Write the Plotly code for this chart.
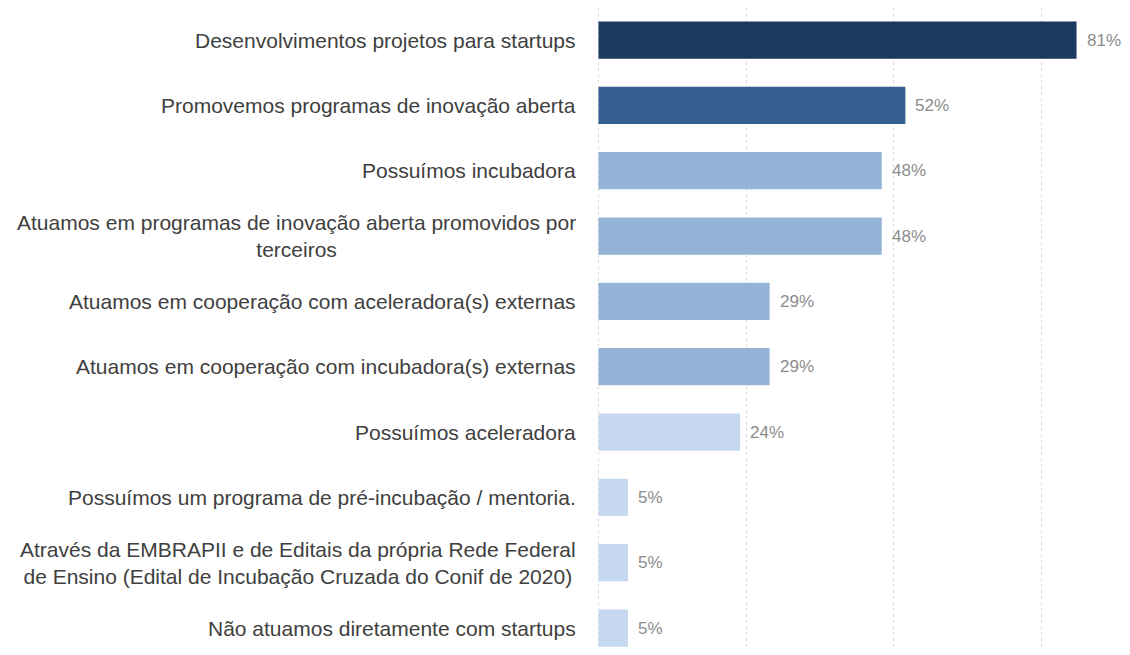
import plotly.graph_objects as go

labels = [
    "Desenvolvimentos projetos para startups",
    "Promovemos programas de inovação aberta",
    "Possuímos incubadora",
    "Atuamos em programas de inovação aberta promovidos por<br>terceiros",
    "Atuamos em cooperação com aceleradora(s) externas",
    "Atuamos em cooperação com incubadora(s) externas",
    "Possuímos aceleradora",
    "Possuímos um programa de pré-incubação / mentoria.",
    "Através da EMBRAPII e de Editais da própria Rede Federal<br>de Ensino (Edital de Incubação Cruzada do Conif de 2020)",
    "Não atuamos diretamente com startups",
]
values = [81, 52, 48, 48, 29, 29, 24, 5, 5, 5]
colors = ["#1b3a60", "#365f90", "#95b3d7", "#95b3d7", "#95b3d7",
          "#95b3d7", "#c6d9f0", "#c6d9f0", "#c6d9f0", "#c6d9f0"]

positions = list(range(len(labels)))

fig = go.Figure()
fig.add_trace(go.Bar(
    x=values,
    y=positions,
    orientation="h",
    marker=dict(color=colors, line=dict(width=0)),
    width=0.57,
    hoverinfo="skip",
))

# category labels (multi-line labels are centred line by line)
for pos, lab in zip(positions, labels):
    fig.add_annotation(
        x=0, y=pos, xref="paper", yref="y",
        text=lab, showarrow=False,
        xanchor="right", yanchor="middle", align="center",
        xshift=-19,
        font=dict(size=21, color="#404040", family="Liberation Sans, Arial"),
    )

# value labels (kept tight so the 81% label stays inside the window)
for pos, v in zip(positions, values):
    fig.add_annotation(
        x=v, y=pos, xref="x", yref="y",
        text=f"{v}%", showarrow=False,
        xanchor="left", yanchor="middle",
        xshift=8,
        font=dict(size=17, color="#8c8c8c", family="Liberation Sans, Arial"),
    )

# page body has an 8px margin, keep the figure inside the window (no scrollbars)
fig.update_layout(
    width=1114,
    height=639,
    plot_bgcolor="white",
    paper_bgcolor="white",
    showlegend=False,
    margin=dict(l=589, r=0, t=0, b=0),
    font=dict(family="Liberation Sans, Arial", color="#404040"),
)
fig.update_xaxes(
    range=[-0.25, 88.7],
    tickvals=[0, 25, 50, 75],
    showticklabels=False,
    showgrid=True,
    gridcolor="#d9d9d9",
    griddash="dot",
    gridwidth=1,
    zeroline=False,
    showline=False,
)
fig.update_yaxes(
    range=[9.29, -0.49],
    showticklabels=False,
    showgrid=False,
    zeroline=False,
    showline=False,
)

fig.write_html("out.html")
